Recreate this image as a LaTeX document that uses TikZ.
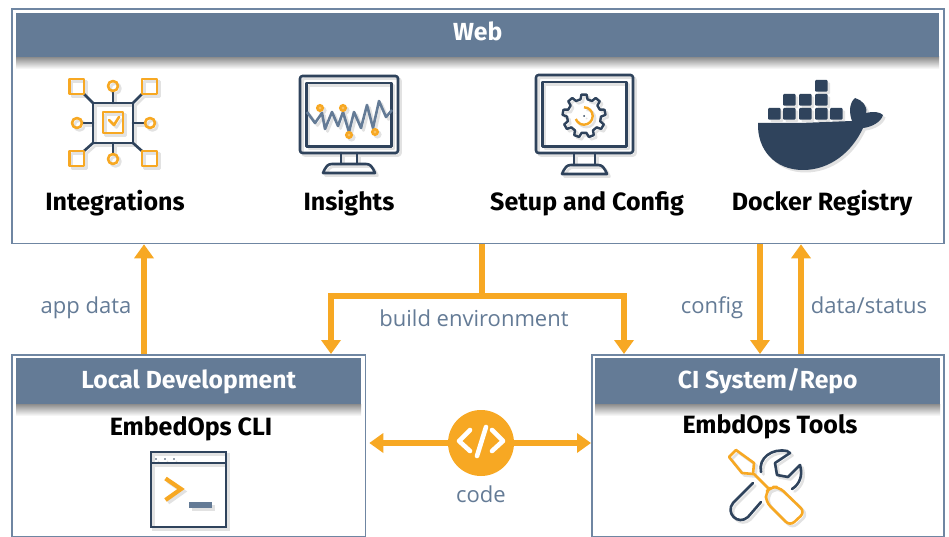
\documentclass[tikz,border=0pt]{standalone}
\usepackage{fontspec}
\setmainfont{Fira Sans}
\newfontfamily\lightfont{Open Sans}
\usetikzlibrary{arrows.meta}
\definecolor{slate}{HTML}{647B96}
\definecolor{edgeblue}{HTML}{6F86A2}
\definecolor{navy}{HTML}{2F435C}
\definecolor{amber}{HTML}{F7A823}
\definecolor{shadowgray}{HTML}{E2E2E2}
\tikzset{
  panel/.style={draw=edgeblue,line width=1.8pt,fill=white,inner sep=0pt,anchor=north west},
  banner/.style={fill=slate,text=white,inner sep=0pt,anchor=north west,text height=19pt,text depth=4pt,font=\fontsize{24.7}{28}\selectfont\bfseries},
  iconlabel/.style={text=black,inner sep=0pt,text height=19pt,text depth=4pt,font=\fontsize{25}{28}\selectfont\bfseries},
  flowlabel/.style={text=slate,inner sep=0pt,text height=17pt,text depth=5pt,font=\lightfont\fontsize{22}{25}\selectfont},
  flow/.style={draw=amber,line width=5.5pt,-{Triangle[width=19pt,length=14pt]}},
  flowplain/.style={draw=amber,line width=5.5pt},
  fadeband/.style={top color=black!45,bottom color=white,draw=none},
  ink/.style={line width=2.6pt,line join=round,line cap=round},
}
\newcommand{\integrationsicon}[3]{%
  \begin{scope}[ink]
    \draw[#1] (93,103) rectangle (133,143);
    \draw[#1] (93,103)--(84,94) (133,103)--(142,94) (93,143)--(84,151) (133,143)--(142,151);
    \draw[#1] (113,91)--(113,103) (113,143)--(113,154) (82,123)--(93,123) (133,123)--(145,123);
    \draw[#2] (69.5,79) rectangle (84,94) (142,79) rectangle (157,94) (69.5,151) rectangle (84,166) (142,151) rectangle (157,166);
    \draw[#2] (113,86) circle (5) (113,159) circle (5) (77,123) circle (5) (150,123) circle (5);
    \draw[#2] (103,112) rectangle (123,133);
    \draw[#2] (109,120)--(114,125)--(119,117);
  \end{scope}}
\newcommand{\monitorshape}[7]{%
  \draw[ink,#7,rounded corners=2.5] (#1,#2) rectangle (#3,#4);
  \draw[ink,#7] (#1+6.5,#2+7) rectangle (#3-6.5,#4-6.5);
  \draw[ink,#7] (#5,#4)--(#5,#4+11) (#6,#4)--(#6,#4+11);}
\newcommand{\insightsicon}[3]{%
  \monitorshape{300}{76}{398}{153}{341}{357}{#1}
  \draw[ink,#1] (323,173)--(375,173) .. controls (372,166) and (370,164) .. (366,164) -- (332,164) .. controls (328,164) and (326,166) .. (323,173);
  \draw[line width=2.6pt,line join=round,#3] (307,112)--(315,123)--(322,113)--(325,129)--(332,112)--(338,126)--(343,112)--(349,132)--(354,112)--(361,128)--(367,105)--(373,128)--(379,101)--(386,117)--(392,110);
  \foreach \p in {(320,108),(343,108),(349,135),(375,132)} \draw[line width=2.4pt,#2,fill=#2!70!white] \p circle (2.8);}
\newcommand{\setupicon}[3]{%
  \monitorshape{536}{75}{633}{153}{574}{595}{#1}
  \draw[ink,#1] (562,174)--(607,174) .. controls (604,167) and (602,165) .. (598,165) -- (571,165) .. controls (567,165) and (565,167) .. (562,174);
  \begin{scope}[shift={(584,116)}]
    \draw[line width=2.4pt,line join=round,#1]
      (-83:21.5) \foreach \k in {0,...,8}{
        -- ({-90+\k*40+7}:21.5) -- ({-90+\k*40+12}:17)
        -- ({-90+\k*40+28}:17) -- ({-90+\k*40+33}:21.5) } -- cycle;
    \draw[line width=2.4pt,#2] (0,-8.7) arc[start angle=-90,delta angle=250,radius=8.7];
    \fill[#1] (0,0) circle (1);
  \end{scope}}
\newcommand{\dockericon}[3]{%
  \begin{scope}[#1]
    \foreach \x/\y in {815/80,783/94,799/94,815/94,768/108,783/108,799/108,815/108,830/108}
      \fill[rounded corners=1] (\x,\y) rectangle ++(12.6,11.6);
    \fill (758,123) -- (800,123) -- (852,121) .. controls (849,113) and (849,103) .. (855,98)
      .. controls (862,100) and (868,106) .. (866,113)
      .. controls (873,111) and (880,112) .. (883,115)
      .. controls (881,122) and (872,127) .. (863,128)
      .. controls (852,152) and (830,170) .. (803,170)
      .. controls (775,170) and (757,150) .. (758,123) -- cycle;
  \end{scope}}
\newcommand{\terminalicon}[3]{%
  \draw[line width=2.2pt,#1] (151,452) rectangle (226,527) (151,463)--(226,463);
  \foreach \x in {156,165,174} \fill[#1] (\x,459) circle (0.9);
  \draw[line width=4.2pt,miter limit=10,#2] (165.5,478.5)--(181,489)--(165.5,500);
  \fill[#3] (189,502) rectangle (212,508);}
\newcommand{\toolsicon}[3]{%
  \draw[ink,#2] (729,457)--(736,450)--(754,463)--(753,474)--(742,473)--cycle;
  \draw[ink,#2] (754,474)--(768,488);
  \draw[ink,#2,rounded corners=6] (766,502)--(766,492)--(771,487)--(779,487)--(805,512)--(790,526)--cycle;
  \draw[ink,#1] (761,472) .. controls (758,458) and (772,448) .. (787,451) -- (790,453) -- (775,463) -- (777,475) -- (788,477) -- (800,465) .. controls (803,475) and (800,484) .. (792,489);
  \draw[ink,#1] (753,483) -- (733,503) .. controls (725,513) and (738,526) .. (748,517) -- (761,502);}
\begin{document}
\begin{tikzpicture}[x=1pt,y=-1pt]
\useasboundingbox (0,0) rectangle (949,537);
\fill[white] (0,0) rectangle (949,537);
\node[panel,minimum width=932pt,minimum height=234.5pt] (web) at (11,8) {};
\node[panel,minimum width=353.5pt,minimum height=181.5pt] (local) at (11,354) {};
\node[panel,minimum width=352pt,minimum height=181.5pt] (ci) at (591,354) {};
\shade[fadeband] (16,57) rectangle (939,69);
\shade[fadeband] (16,404) rectangle (361,416);
\shade[fadeband] (595,404) rectangle (940,416);
\node[banner,minimum width=923pt,minimum height=44pt] (webbar) at (16,13) {\raisebox{2pt}{Web}};
\node[banner,minimum width=345pt,minimum height=46pt] (localbar) at (16,358) {Local Development};
\node[banner,minimum width=345pt,minimum height=46pt] (cibar) at (595,358) {CI System/Repo};
\begin{scope}[shift={(2.5,2.5)}]
  \integrationsicon{shadowgray}{shadowgray}{shadowgray}
  \insightsicon{shadowgray}{shadowgray}{shadowgray}
  \setupicon{shadowgray}{shadowgray}{shadowgray}
  \dockericon{shadowgray}{shadowgray}{shadowgray}
  \terminalicon{shadowgray}{shadowgray}{shadowgray}
  \toolsicon{shadowgray}{shadowgray}{shadowgray}
\end{scope}
\integrationsicon{navy}{amber}{slate}
\insightsicon{navy}{amber}{slate}
\setupicon{navy}{amber}{slate}
\dockericon{navy}{amber}{slate}
\terminalicon{navy}{amber}{slate}
\toolsicon{navy}{amber}{slate}
\node[iconlabel] (lint) at (115,203) {Integrations};
\node[iconlabel] (lins) at (349,203) {Insights};
\node[iconlabel] (lset) at (587,203) {Setup and Config};
\node[iconlabel] (ldoc) at (822,203) {Docker Registry};
\node[iconlabel] (lcli) at (191,427.5) {EmbedOps CLI};
\node[iconlabel] (ltools) at (770,426) {EmbdOps Tools};
\coordinate (ax) at (144,300);
\coordinate (bx) at (482,296);
\coordinate (blx) at (331,296);
\coordinate (brx) at (624,296);
\coordinate (cx) at (760,300);
\coordinate (dx) at (801,300);
\draw[flow] (local.north -| ax) -- (web.south -| ax);
\draw[flowplain] (web.south -| bx) -- (bx);
\draw[flow] (bx) -- (blx) -- (local.north -| blx);
\draw[flow] (bx) -- (brx) -- (ci.north -| brx);
\draw[flow] (web.south -| cx) -- (ci.north -| cx);
\draw[flow] (ci.north -| dx) -- (web.south -| dx);
\node[circle,fill=amber,minimum size=66pt,inner sep=0pt] (code) at (481,443) {};
\draw[flow] (code) -- ([xshift=3pt]local.east |- code);
\draw[flow] (code) -- (ci.west |- code);
\draw[line width=4.6pt,white,line cap=round,line join=round] (470,430)--(459,441)--(470,451) (492,430)--(503,441)--(492,451) (486,427)--(477,456);
\node[flowlabel] (l1) at (86,307) {app data};
\node[flowlabel] (l2) at (474,320) {build environment};
\node[flowlabel] (l3) at (712,307) {config};
\node[flowlabel] (l4) at (869,307) {data/status};
\node[flowlabel] (l5) at (481,496) {code};
\end{tikzpicture}
\end{document}
